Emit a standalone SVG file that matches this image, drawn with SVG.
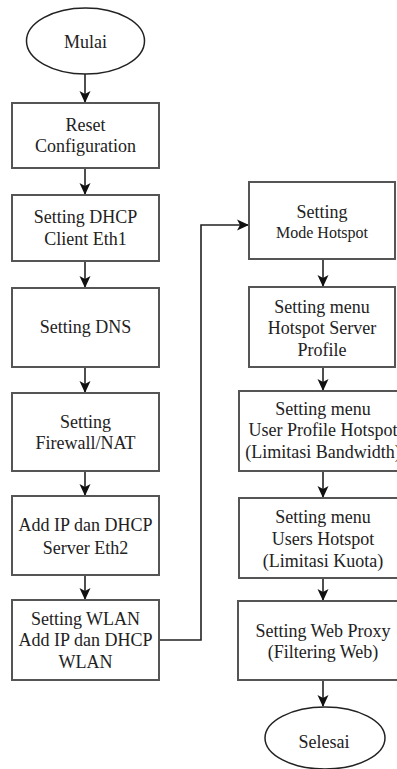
<svg xmlns="http://www.w3.org/2000/svg" width="397" height="769" viewBox="0 0 397 769">
<style>
.box{fill:#fff;stroke:#555;stroke-width:2}
.term{fill:#fff;stroke:#222;stroke-width:1.5}
.t{font-family:"Liberation Serif","Times New Roman",serif;font-size:18px;fill:#222;text-anchor:middle}
.s{font-size:16px}
.c{fill:none;stroke:#222;stroke-width:1.6}
</style>
<defs>
<marker id="ah" markerUnits="userSpaceOnUse" markerWidth="12" markerHeight="12" viewBox="0 0 12 12" refX="11" refY="6" orient="auto">
<path d="M0,0.5 L12,6 L0,11.5 L3,6 z" fill="#111"/>
</marker>
</defs>
<rect width="397" height="769" fill="#fff"/>
<g id="connectors">
<line class="c" x1="85" y1="74" x2="85" y2="102" marker-end="url(#ah)"/>
<line class="c" x1="85" y1="168" x2="85" y2="194" marker-end="url(#ah)"/>
<line class="c" x1="85" y1="261" x2="85" y2="287" marker-end="url(#ah)"/>
<line class="c" x1="85" y1="367" x2="85" y2="392" marker-end="url(#ah)"/>
<line class="c" x1="85" y1="471" x2="85" y2="495" marker-end="url(#ah)"/>
<line class="c" x1="85" y1="575" x2="85" y2="599" marker-end="url(#ah)"/>
<polyline class="c" points="159,640 201,640 201,225 248,225" marker-end="url(#ah)"/>
<line class="c" x1="323" y1="259" x2="323" y2="286" marker-end="url(#ah)"/>
<line class="c" x1="323" y1="367" x2="323" y2="390" marker-end="url(#ah)"/>
<line class="c" x1="323" y1="471" x2="323" y2="497" marker-end="url(#ah)"/>
<line class="c" x1="323" y1="578" x2="323" y2="600" marker-end="url(#ah)"/>
<line class="c" x1="323" y1="680" x2="323" y2="706" marker-end="url(#ah)"/>
</g>
<g id="mulai">
<ellipse class="term" cx="85.5" cy="41" rx="59" ry="33"/>
<text class="t" x="85.5" y="48">Mulai</text>
</g>
<g id="reset">
<rect class="box" x="12" y="103" width="147" height="65"/>
<text class="t" x="85.5" y="131">Reset</text>
<text class="t" x="85.5" y="152">Configuration</text>
</g>
<g id="dhcp-client">
<rect class="box" x="12" y="195" width="147" height="66"/>
<text class="t" x="85.5" y="223">Setting DHCP</text>
<text class="t" x="85.5" y="245">Client Eth1</text>
</g>
<g id="dns">
<rect class="box" x="12" y="288" width="147" height="79"/>
<text class="t" x="85.5" y="333">Setting DNS</text>
</g>
<g id="firewall">
<rect class="box" x="12" y="393" width="147" height="78"/>
<text class="t" x="85.5" y="428">Setting</text>
<text class="t" x="85.5" y="449">Firewall/NAT</text>
</g>
<g id="dhcp-server">
<rect class="box" x="12" y="496" width="147" height="79"/>
<text class="t" x="85.5" y="531">Add IP dan DHCP</text>
<text class="t" x="85.5" y="554">Server Eth2</text>
</g>
<g id="wlan">
<rect class="box" x="12" y="600" width="147" height="80"/>
<text class="t" x="85.5" y="625">Setting WLAN</text>
<text class="t" x="85.5" y="646">Add IP dan DHCP</text>
<text class="t" x="85.5" y="668">WLAN</text>
</g>
<g id="mode-hotspot">
<rect class="box" x="249" y="182" width="146" height="77"/>
<text class="t" x="322" y="218">Setting</text>
<text class="t s" x="322" y="238">Mode Hotspot</text>
</g>
<g id="server-profile">
<rect class="box" x="249" y="287" width="146" height="80"/>
<text class="t" x="322" y="313">Setting menu</text>
<text class="t" x="322" y="334">Hotspot Server</text>
<text class="t" x="322" y="356">Profile</text>
</g>
<g id="user-profile">
<rect class="box" x="239" y="391" width="168" height="80"/>
<text class="t" x="323" y="415">Setting menu</text>
<text class="t" x="323" y="436">User Profile Hotspot</text>
<text class="t" x="323" y="458">(Limitasi Bandwidth)</text>
</g>
<g id="users-hotspot">
<rect class="box" x="239" y="498" width="168" height="80"/>
<text class="t" x="323" y="523">Setting menu</text>
<text class="t" x="323" y="545">Users Hotspot</text>
<text class="t" x="323" y="567">(Limitasi Kuota)</text>
</g>
<g id="web-proxy">
<rect class="box" x="238" y="601" width="169" height="79"/>
<text class="t" x="323" y="637">Setting Web Proxy</text>
<text class="t" x="323" y="658">(Filtering Web)</text>
</g>
<g id="selesai">
<ellipse class="term" cx="325" cy="738" rx="60" ry="31"/>
<text class="t" x="324" y="748">Selesai</text>
</g>
</svg>
